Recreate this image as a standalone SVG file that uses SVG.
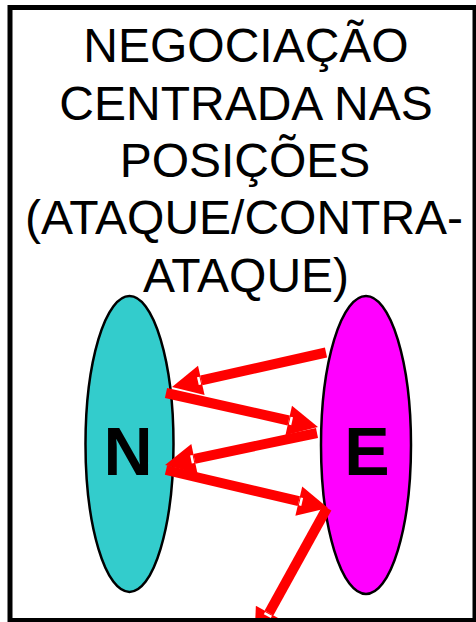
<svg xmlns="http://www.w3.org/2000/svg" width="476" height="622" viewBox="0 0 476 622">
<style>
.title{font-family:"Liberation Sans",Arial,sans-serif;font-size:48px;fill:#000;text-anchor:middle}
.lbl{font-family:"Liberation Sans",Arial,sans-serif;font-size:68px;font-weight:bold;fill:#000;text-anchor:middle}
.node{stroke:#000;stroke-width:2.5}
.arr{stroke:#FF0000;stroke-width:10;fill:none;marker-end:url(#ah)}
</style>
<defs>
<marker id="ah" markerUnits="userSpaceOnUse" markerWidth="31" markerHeight="31" refX="0" refY="15" orient="auto" overflow="visible">
<path d="M0,0 L30,15 L0,30 Z" fill="#FF0000"/>
<rect x="1" y="11" width="2.5" height="8" fill="#FFFFFF"/>
</marker>
</defs>
<rect x="0" y="0" width="476" height="622" fill="#FFFFFF"/>
<g id="title">
<text class="title" x="246" y="62">NEGOCIAÇÃO</text>
<text class="title" x="246" y="120">CENTRADA NAS</text>
<text class="title" x="245" y="177">POSIÇÕES</text>
<text class="title" x="244" y="234">(ATAQUE/CONTRA-</text>
<text class="title" x="246" y="292">ATAQUE)</text>
</g>
<g id="node-N">
<ellipse class="node" cx="129.5" cy="444" rx="44" ry="148" fill="#33CCCC"/>
<text class="lbl" x="128" y="475">N</text>
</g>
<g id="node-E">
<ellipse class="node" cx="366" cy="445" rx="45" ry="149" fill="#FF00FF"/>
<text class="lbl" x="367" y="475">E</text>
</g>
<g id="connectors">
<line class="arr" x1="326" y1="352.5" x2="201.3" y2="380.4"/>
<line class="arr" x1="166" y1="393" x2="288.7" y2="420.5"/>
<line class="arr" x1="317" y1="433" x2="194.4" y2="458.8"/>
<line class="arr" x1="166" y1="470" x2="298.8" y2="501.2"/>
<line class="arr" x1="327" y1="508" x2="269" y2="613"/>
</g>
<rect id="frame" x="10" y="7.5" width="465" height="613" fill="none" stroke="#000" stroke-width="5"/>
</svg>
